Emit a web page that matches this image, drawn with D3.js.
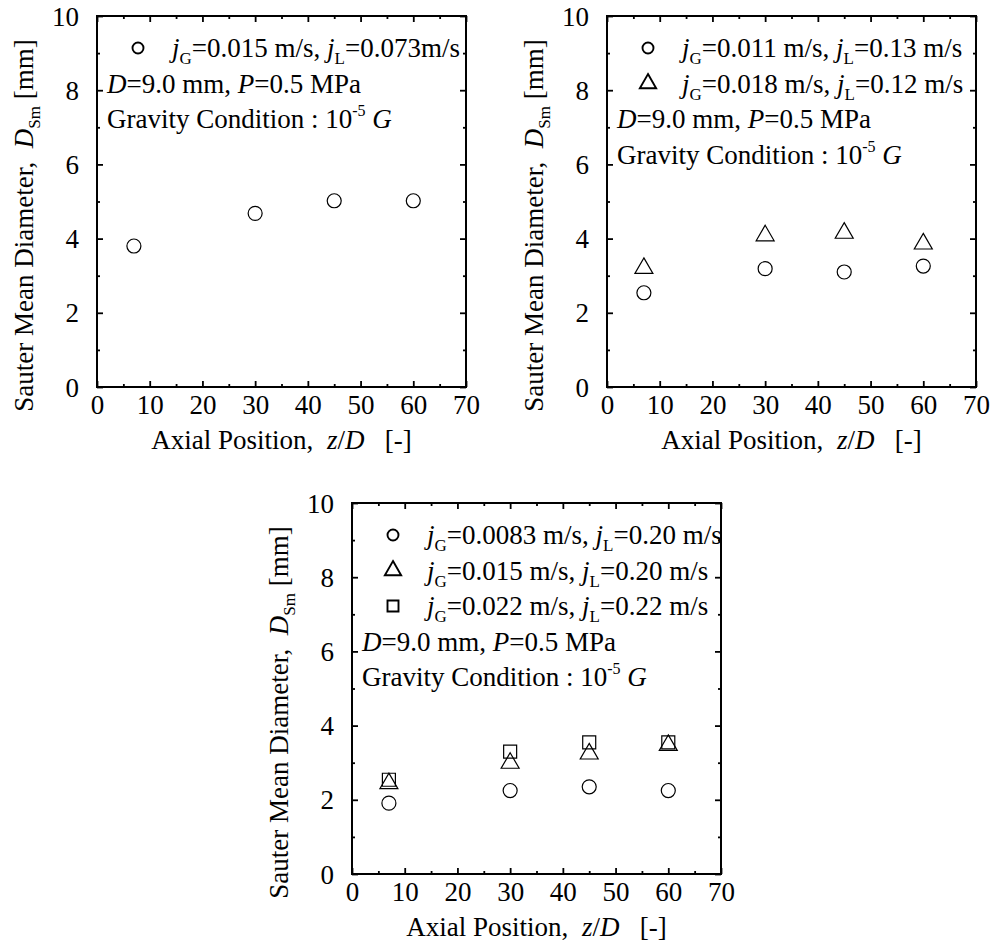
<!DOCTYPE html>
<html>
<head>
<meta charset="utf-8">
<title>Sauter Mean Diameter</title>
<style>
  body { margin: 0; background: #fff; }
  text { font-family: "Liberation Serif", "Times New Roman", serif; fill: #000; }
</style>
</head>
<body>
<script src="https://cdn.jsdelivr.net/npm/d3@7"></script>
<script>
// axial measuring positions z/D
var zD = [7, 30, 45, 60];

// top left panel
var aCircle = [3.80, 4.68, 5.02, 5.02];
// top right panel
var bCircle = [2.54, 3.19, 3.10, 3.26];
var bTriangle = [3.20, 4.08, 4.15, 3.86];
// bottom panel
var cCircle = [1.91, 2.25, 2.35, 2.25];
var cTriangle = [2.44, 2.99, 3.24, 3.47];
var cSquare = [2.54, 3.30, 3.55, 3.55];

// legend flow conditions
var aJG = ["0.015 m/s"], aJL = ["0.073m/s"];
var bJG = ["0.011 m/s", "0.018 m/s"], bJL = ["0.13 m/s", "0.12 m/s"];
var cJG = ["0.0083 m/s", "0.015 m/s", "0.022 m/s"], cJL = ["0.20 m/s", "0.20 m/s", "0.22 m/s"];

var xTicks = [0, 10, 20, 30, 40, 50, 60, 70];
var yTicks = [0, 2, 4, 6, 8, 10];

var w = 999, h = 950;
var pw = 369, ph = 371;

var svg = d3.select("body").append("svg").attr("width", w).attr("height", h);

var shapes = {
  circle: d3.symbol().type(d3.symbolCircle).size(154),
  triangle: d3.symbol().type(d3.symbolTriangle).size(140),
  square: d3.symbol().type(d3.symbolSquare).size(169)
};
var legendShapes = {
  circle: d3.symbol().type(d3.symbolCircle).size(95),
  triangle: d3.symbol().type(d3.symbolTriangle).size(115),
  square: d3.symbol().type(d3.symbolSquare).size(121)
};

function drawPanel(left, top, series) {
  var g = svg.append("g").attr("transform", "translate(" + left + "," + top + ")");
  var x = d3.scaleLinear().domain([0, 70]).range([0, pw]);
  var y = d3.scaleLinear().domain([0, 10]).range([ph, 0]);

  // minor ticks, all four sides, inward
  var minorX = d3.range(5, 70, 10), minorY = d3.range(1, 10, 2);
  g.append("g").attr("transform", "translate(0," + ph + ")")
    .call(d3.axisBottom(x).tickValues(minorX).tickSize(-3).tickSizeOuter(0).tickFormat(""));
  g.append("g").call(d3.axisTop(x).tickValues(minorX).tickSize(-3).tickSizeOuter(0).tickFormat(""));
  g.append("g").call(d3.axisLeft(y).tickValues(minorY).tickSize(-3).tickSizeOuter(0).tickFormat(""));
  g.append("g").attr("transform", "translate(" + pw + ",0)")
    .call(d3.axisRight(y).tickValues(minorY).tickSize(-3).tickSizeOuter(0).tickFormat(""));

  // major ticks
  g.append("g").attr("class", "xaxis").attr("transform", "translate(0," + ph + ")")
    .call(d3.axisBottom(x).tickValues(xTicks).tickSize(-6).tickSizeOuter(0).tickPadding(8));
  g.append("g").call(d3.axisTop(x).tickValues(xTicks).tickSize(-6).tickSizeOuter(0).tickFormat(""));
  g.append("g").attr("class", "yaxis")
    .call(d3.axisLeft(y).tickValues(yTicks).tickSize(-6).tickSizeOuter(0).tickPadding(18));
  g.append("g").attr("transform", "translate(" + pw + ",0)")
    .call(d3.axisRight(y).tickValues(yTicks).tickSize(-6).tickSizeOuter(0).tickFormat(""));

  g.selectAll(".domain").remove();
  g.selectAll(".tick line").attr("stroke", "#000").attr("stroke-width", 1.8);
  g.selectAll(".tick text").style("font-size", "27px").attr("fill", "#000");
  g.select(".yaxis").selectAll(".tick text").attr("dy", "0.34em");

  g.append("rect").attr("width", pw).attr("height", ph)
    .attr("fill", "none").attr("stroke", "#000").attr("stroke-width", 2);

  // data markers
  series.forEach(function(s) {
    g.selectAll(null)
      .data(s.values)
      .enter()
      .append("path")
      .attr("d", shapes[s.shape])
      .attr("transform", function(d, i) { return "translate(" + x(zD[i]) + "," + y(d) + ")"; })
      .attr("fill", "none")
      .attr("stroke", "#000")
      .attr("stroke-width", 1.2);
  });

  // legend
  var row0 = 41, rowStep = 35.5;
  series.forEach(function(s, i) {
    var by = row0 + i * rowStep;
    g.append("path").attr("d", legendShapes[s.shape])
      .attr("transform", "translate(41," + (by - 9) + ")")
      .attr("fill", "none").attr("stroke", "#000").attr("stroke-width", 1.9);
    var t = g.append("text").attr("x", 75).attr("y", by).style("font-size", "27px");
    t.append("tspan").style("font-style", "italic").text("j");
    t.append("tspan").style("font-size", "17px").attr("dy", 7).text("G");
    t.append("tspan").attr("dy", -7).text("=" + s.jG + ", ");
    t.append("tspan").style("font-style", "italic").text("j");
    t.append("tspan").style("font-size", "17px").attr("dy", 7).text("L");
    t.append("tspan").attr("dy", -7).text("=" + s.jL);
  });
  var n = series.length;
  var t1 = g.append("text").attr("x", 10).attr("y", row0 + n * rowStep).style("font-size", "27px");
  t1.append("tspan").style("font-style", "italic").text("D");
  t1.append("tspan").text("=9.0 mm, ");
  t1.append("tspan").style("font-style", "italic").text("P");
  t1.append("tspan").text("=0.5 MPa");
  var t2 = g.append("text").attr("x", 10).attr("y", row0 + (n + 1) * rowStep).style("font-size", "27px");
  t2.append("tspan").text("Gravity Condition : 10");
  t2.append("tspan").style("font-size", "16px").attr("dy", -12).text("-5");
  t2.append("tspan").attr("dy", 12).text(" ");
  t2.append("tspan").style("font-style", "italic").text("G");

  // axis titles
  var xt = g.append("text").attr("x", pw / 2).attr("y", ph + 62)
    .attr("text-anchor", "middle").style("font-size", "27px").attr("xml:space", "preserve");
  xt.append("tspan").text("Axial Position,  ");
  xt.append("tspan").style("font-style", "italic").text("z");
  xt.append("tspan").text("/");
  xt.append("tspan").style("font-style", "italic").text("D");
  xt.append("tspan").text("   [-]");

  var yt = g.append("text")
    .attr("transform", "translate(-64," + (ph / 2 + 24) + ") rotate(-90)")
    .attr("text-anchor", "middle").style("font-size", "27px").attr("xml:space", "preserve");
  yt.append("tspan").text("Sauter Mean Diameter,  ");
  yt.append("tspan").style("font-style", "italic").text("D");
  yt.append("tspan").style("font-size", "17px").attr("dy", 7).text("Sm");
  yt.append("tspan").attr("dy", -7).text(" [mm]");
}

function makeSeries(shapeList, valueList, jG, jL) {
  return shapeList.map(function(sh, i) {
    return { shape: sh, values: valueList[i], jG: jG[i], jL: jL[i] };
  });
}

drawPanel(97, 16, makeSeries(["circle"], [aCircle], aJG, aJL));
drawPanel(607, 16, makeSeries(["circle", "triangle"], [bCircle, bTriangle], bJG, bJL));
drawPanel(352, 503, makeSeries(["circle", "triangle", "square"], [cCircle, cTriangle, cSquare], cJG, cJL));
</script>
</body>
</html>
